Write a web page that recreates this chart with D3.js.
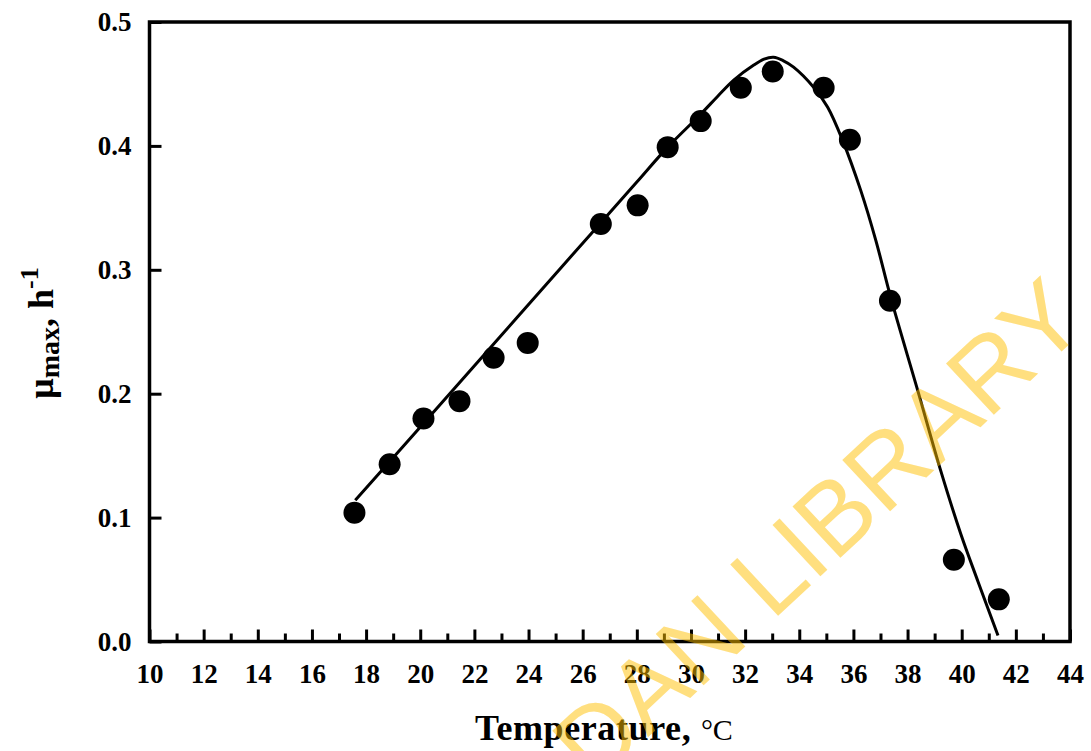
<!DOCTYPE html>
<html>
<head>
<meta charset="utf-8">
<script src="https://cdn.jsdelivr.net/npm/d3@7"></script>
<style>
  body { margin: 0; background: #fff; }
  svg { display: block; }
</style>
</head>
<body>
<svg id="chart"></svg>
<script>
// measured points
const tempObs = [17.57, 18.87, 20.12, 21.45, 22.71, 23.97, 26.67, 28.03, 29.14, 30.36, 31.84, 33.02, 34.9, 35.87, 37.35, 39.71, 41.37];
const muObs = [0.104, 0.143, 0.180, 0.194, 0.229, 0.241, 0.337, 0.352, 0.399, 0.420, 0.447, 0.460, 0.447, 0.405, 0.275, 0.066, 0.034];

// fitted curve
const tempFit = [17.6, 20.2, 22.72, 25.2, 26.67, 28.0, 29.14, 30.36, 30.99, 31.58, 32.32, 32.7, 33.05, 33.4, 33.79, 34.53, 35.05, 35.6, 36.27, 36.83, 37.38, 38.38, 39.23, 39.97, 40.6, 41.34];
const muFit = [0.114, 0.178, 0.2404, 0.3017, 0.338, 0.3708, 0.399, 0.4256, 0.4401, 0.4531, 0.4652, 0.4700, 0.4715, 0.4689, 0.4636, 0.4474, 0.4312, 0.4045, 0.3641, 0.3236, 0.2775, 0.2023, 0.1375, 0.0866, 0.0485, 0.0049];

const xTickVals = d3.range(10, 45, 2);
const xMinorVals = d3.range(11, 44, 2);
const yTickVals = [0, 0.1, 0.2, 0.3, 0.4, 0.5];

const width = 1091, height = 751;
const margin = { left: 149.5, right: 21, top: 22, bottom: 110 };
const serif = "'Liberation Serif', 'Times New Roman', serif";

const svg = d3.select("#chart").attr("width", width).attr("height", height);

let x = d3.scaleLinear().domain([10, 44]).range([margin.left, width - margin.right]);
let y = d3.scaleLinear().domain([0, 0.5]).range([height - margin.bottom + 0.5, margin.top]);

// minor x ticks
svg.append("g")
  .attr("transform", `translate(0,${y(0)})`)
  .call(d3.axisBottom(x).tickValues(xMinorVals).tickSizeInner(-8).tickSizeOuter(0).tickFormat(""))
  .call(g => g.select(".domain").remove())
  .call(g => g.selectAll("line").attr("stroke-width", 3));

let xAxis = d3.axisBottom(x).tickValues(xTickVals).tickSizeInner(-12).tickSizeOuter(0).tickPadding(22);
svg.append("g")
  .attr("transform", `translate(0,${y(0)})`)
  .call(xAxis)
  .call(g => g.select(".domain").remove())
  .call(g => g.selectAll("line").attr("stroke-width", 3))
  .call(g => g.selectAll("text").attr("font-family", serif).attr("font-size", 27).attr("font-weight", "bold").attr("fill", "#000"));

let yAxis = d3.axisLeft(y).tickValues(yTickVals).tickSizeInner(-12).tickSizeOuter(0).tickPadding(18).tickFormat(d3.format(".1f"));
svg.append("g")
  .attr("transform", `translate(${x(10)},0)`)
  .call(yAxis)
  .call(g => g.select(".domain").remove())
  .call(g => g.selectAll("line").attr("stroke-width", 3))
  .call(g => g.selectAll("text").attr("font-family", serif).attr("font-size", 27).attr("font-weight", "bold").attr("fill", "#000"));

// frame
svg.append("rect")
  .attr("x", x(10)).attr("y", y(0.5))
  .attr("width", x(44) - x(10)).attr("height", y(0) - y(0.5))
  .attr("fill", "none").attr("stroke", "#000").attr("stroke-width", 3.5);

// fitted line
let line = d3.line().x((d, i) => x(tempFit[i])).y(d => y(d)).curve(d3.curveCatmullRom.alpha(0.5));
svg.append("path")
  .attr("d", line(muFit))
  .attr("fill", "none").attr("stroke", "#000").attr("stroke-width", 3);

// points
svg.selectAll("circle.pt")
  .data(muObs)
  .enter()
  .append("circle")
  .attr("class", "pt")
  .attr("cx", (d, i) => x(tempObs[i]))
  .attr("cy", d => y(d))
  .attr("r", 11)
  .attr("fill", "#000");

// x title
let xt = svg.append("text")
  .attr("x", 604).attr("y", 740)
  .attr("text-anchor", "middle")
  .attr("font-family", serif)
  .attr("fill", "#000");
xt.append("tspan").attr("font-size", 36).attr("font-weight", "bold").attr("letter-spacing", 0.6).text("Temperature, ");
xt.append("tspan").attr("font-size", 30).text("°C");

// y title
let yt = svg.append("text")
  .attr("transform", "translate(53,333) rotate(-90)")
  .attr("text-anchor", "middle")
  .attr("font-family", serif)
  .attr("font-weight", "bold")
  .attr("fill", "#000");
yt.append("tspan").attr("font-size", 36).text("μ");
yt.append("tspan").attr("font-size", 28).attr("dy", 6).text("max");
yt.append("tspan").attr("font-size", 36).attr("dy", -6).text(", h");
yt.append("tspan").attr("font-size", 26).attr("dy", -15).text("-1");

// watermark
svg.append("text")
  .attr("transform", "translate(1090,325) rotate(-43)")
  .attr("text-anchor", "end")
  .attr("font-family", "'Liberation Sans', Arial, sans-serif")
  .attr("font-size", 102)
  .attr("fill", "#FFC000")
  .attr("fill-opacity", 0.5)
  .text("DAN LIBRARY");
</script>
</body>
</html>
